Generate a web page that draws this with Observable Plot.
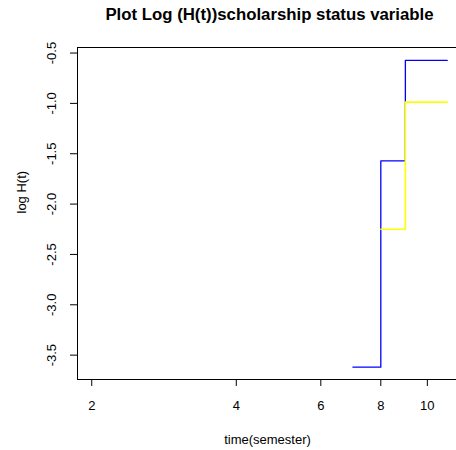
<!DOCTYPE html>
<html>
<head>
<meta charset="utf-8">
<script src="https://cdn.jsdelivr.net/npm/d3@7"></script>
<script src="https://cdn.jsdelivr.net/npm/@observablehq/plot@0.6"></script>
<style>
  html, body { margin: 0; padding: 0; background: white; overflow: hidden; }
</style>
</head>
<body>
<div id="chart"></div>
<script>
// Data
const blueTime = [7, 8, 9, 11];
const blueLogH = [-3.62, -1.57, -0.573, -0.573];
const yellowTime = [8, 9, 11];
const yellowLogH = [-2.25, -0.987, -0.987];
const xTicks = [2, 4, 6, 8, 10];
const yTicks = [-3.5, -3.0, -2.5, -2.0, -1.5, -1.0, -0.5];
const titleText = "Plot Log (H(t))scholarship status variable";
const xLabel = "time(semester)";
const yLabel = "log H(t)";

const blue = blueTime.map((t, i) => ({t, v: blueLogH[i]}));
const yellow = yellowTime.map((t, i) => ({t, v: yellowLogH[i]}));

const font = "'Liberation Sans', Arial, sans-serif";

const chart = Plot.plot({
  width: 456,
  height: 450,
  marginLeft: 77,
  marginRight: -5,
  marginTop: 47,
  marginBottom: 71,
  style: {fontFamily: font, fontSize: "13px", color: "#000", background: "white"},
  x: {type: "log", domain: [1.868, 11.78]},
  y: {domain: [-3.742, -0.445]},
  marks: [
    Plot.line(blue, {x: "t", y: "v", curve: "step-after", stroke: "#0000FF", strokeWidth: 1.3}),
    Plot.line(yellow, {x: "t", y: "v", curve: "step-after", stroke: "#FFFF00", strokeWidth: 1.6}),
    Plot.frame({stroke: "#000", strokeWidth: 1}),
    Plot.axisX(xTicks, {anchor: "bottom", tickSize: 7, tickFormat: () => "", label: null, stroke: "#000"}),
    Plot.text(xTicks, {x: d => d, frameAnchor: "bottom", dy: 30.3, lineAnchor: "bottom", text: d => String(d), fontSize: 13, fill: "#000"}),
    Plot.axisY(yTicks, {anchor: "left", tickSize: 7, tickPadding: 15, tickRotate: -90, tickFormat: d => d.toFixed(1).replace("\u2212", "-"), label: null, fontSize: 13, stroke: "#000"}),
    Plot.text([titleText], {frameAnchor: "top", dy: -27.5, lineAnchor: "bottom", text: d => d, fontWeight: "bold", fontSize: 16.8, fill: "#000"}),
    Plot.text([xLabel], {frameAnchor: "bottom", dx: -2, dy: 64.3, lineAnchor: "bottom", text: d => d, fontSize: 13, fill: "#000"}),
    Plot.text([yLabel], {frameAnchor: "left", dx: -52, rotate: -90, lineAnchor: "bottom", text: d => d, fontSize: 13, fill: "#000"})
  ]
});
document.getElementById("chart").appendChild(chart);
</script>
</body>
</html>
